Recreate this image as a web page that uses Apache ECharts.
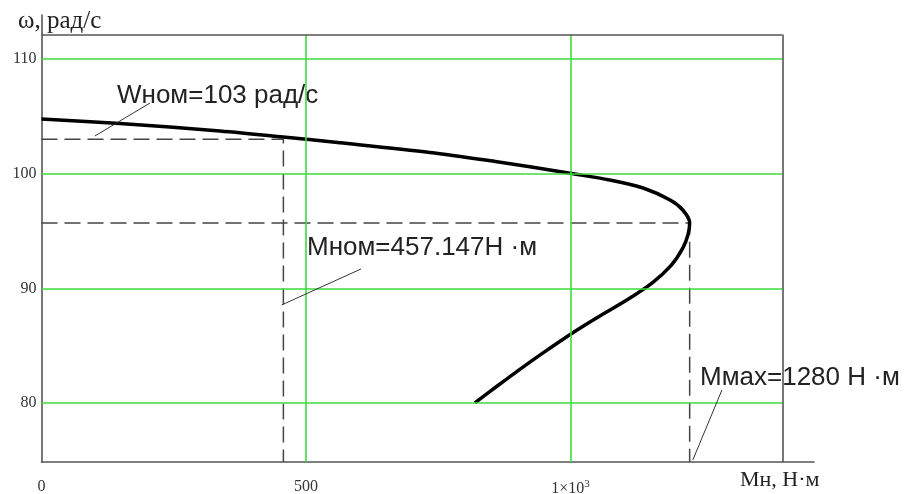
<!DOCTYPE html>
<html>
<head>
<meta charset="utf-8">
<script src="https://cdn.jsdelivr.net/npm/echarts@6/dist/echarts.min.js"></script>
<style>html,body{margin:0;padding:0;background:#fff}#c{width:910px;height:494px}</style>
</head>
<body>
<div id="c"></div>
<script>
// ---- data ----
var torque = [0, 148, 337, 457, 564, 734, 861, 923, 999, 1074, 1137, 1188, 1212, 1225, 1222, 1212, 1190, 1155, 1107, 1052, 1000, 952, 906, 862, 819];
var omega  = [104.77, 104.38, 103.72, 103.2, 102.7, 101.85, 101.04, 100.6, 100.03, 99.45, 98.75, 97.70, 96.83, 95.7, 94.7, 93.5, 92.0, 90.5, 89.0, 87.5, 86.0, 84.5, 83.0, 81.5, 80.0];
var xTicks = [0, 500, 1000];
var yTicks = [80, 90, 100, 110];
var xFrame = [0, 1400];
var yFrame = [74.85, 112.14];
var xAxisEnd = 1460;
var yAxisEnd = 113.84;
var Mnom = 457.147, Wnom = 103;
var McritPlot = 1225, Wcrit = 95.7;
var labelWnom = 'Wном=103 рад/с';
var labelMnom = 'Mном=457.147Н ·м';
var labelMmax = 'Mмах=1280 Н ·м';
var leaderWnom = [[101, 103.29], [205, 106.16]];
var leaderMnom = [[454, 88.55], [604, 91.69]];
var leaderMmax = [[1286, 81.13], [1231, 75.03]];

var curve = torque.map(function (m, i) { return [m, omega[i]]; });

var green = '#3cdc3c';
var gridLines = [];
xTicks.forEach(function (v) { if (v > xFrame[0]) gridLines.push([{coord: [v, yFrame[0]]}, {coord: [v, yFrame[1]]}]); });
yTicks.forEach(function (v) { gridLines.push([{coord: [xFrame[0], v]}, {coord: [xFrame[1], v]}]); });

var frameLines = [
  [{coord: [xFrame[0], yFrame[1]]}, {coord: [xFrame[1], yFrame[1]]}],
  [{coord: [xFrame[1], yFrame[0]]}, {coord: [xFrame[1], yFrame[1]]}]
];
var leaders = [leaderWnom, leaderMnom, leaderMmax].map(function (l) {
  return [{coord: l[0]}, {coord: l[1]}];
});

var chart = echarts.init(document.getElementById('c'), null, {renderer: 'canvas'});
var serif = '"Liberation Serif", "Times New Roman", serif';
var sans = '"Liberation Sans", Arial, sans-serif';

chart.setOption({
  animation: false,
  grid: {left: 41.5, right: 96, top: 15, bottom: 32, containLabel: false, outerBoundsMode: 'none'},
  xAxis: {
    type: 'value', min: 0, max: xAxisEnd,
    axisLine: {show: true, onZero: false, lineStyle: {color: '#555', width: 1.6}},
    axisTick: {show: false},
    splitLine: {show: false},
    axisLabel: {
      customValues: xTicks, margin: 17, color: '#333', fontFamily: serif, fontSize: 16,
      formatter: function (v) { return v === 1000 ? '1×10{sup|3}' : String(v); },
      rich: {sup: {fontSize: 11, fontFamily: serif, color: '#333', verticalAlign: 'top', padding: [0, 0, 8, 0]}}
    }
  },
  yAxis: {
    type: 'value', min: yFrame[0], max: yAxisEnd,
    axisLine: {show: true, onZero: false, lineStyle: {color: '#555', width: 1.6}},
    axisTick: {show: false},
    splitLine: {show: false},
    axisLabel: {customValues: yTicks, margin: 5, color: '#333', fontFamily: serif, fontSize: 16}
  },
  graphic: [
    {type: 'text', left: 18, top: 9, style: {text: 'ω, рад/с', font: '25px ' + serif, fill: '#222'}},
    {type: 'text', left: 740, top: 469, style: {text: 'Mн, Н·м', font: '22px ' + serif, fill: '#222'}},
    {type: 'text', left: 117, top: 83, style: {text: labelWnom, font: '26px ' + sans, fill: '#222'}},
    {type: 'text', left: 307, top: 235, style: {text: labelMnom, font: '26px ' + sans, fill: '#222'}},
    {type: 'text', left: 700, top: 365, style: {text: labelMmax, font: '26px ' + sans, fill: '#222'}}
  ],
  series: [
    {
      type: 'line', data: [], silent: true,
      markLine: {silent: true, symbol: 'none', label: {show: false}, animation: false,
        lineStyle: {color: green, width: 1.6, type: 'solid'}, data: gridLines}
    },
    {
      type: 'line', data: [], silent: true,
      markLine: {silent: true, symbol: 'none', label: {show: false}, animation: false,
        lineStyle: {color: '#555', width: 1.6, type: 'solid'}, data: frameLines}
    },
    {
      type: 'line', data: [], silent: true,
      markLine: {silent: true, symbol: 'none', label: {show: false}, animation: false,
        lineStyle: {color: '#333', width: 1, type: 'solid'}, data: leaders}
    },
    {
      type: 'line', data: [[0, Wnom], [Mnom, Wnom], [Mnom, yFrame[0]]], showSymbol: false, silent: true,
      lineStyle: {color: '#444', width: 1.5, type: [16, 7]}
    },
    {
      type: 'line', data: [[0, Wcrit], [McritPlot, Wcrit], [McritPlot, yFrame[0]]], showSymbol: false, silent: true,
      lineStyle: {color: '#444', width: 1.5, type: [16, 7]}
    },
    {
      type: 'line', data: curve, showSymbol: false, smooth: 0.3, silent: true,
      lineStyle: {color: '#000', width: 3.5}
    }
  ]
});
</script>
</body>
</html>
